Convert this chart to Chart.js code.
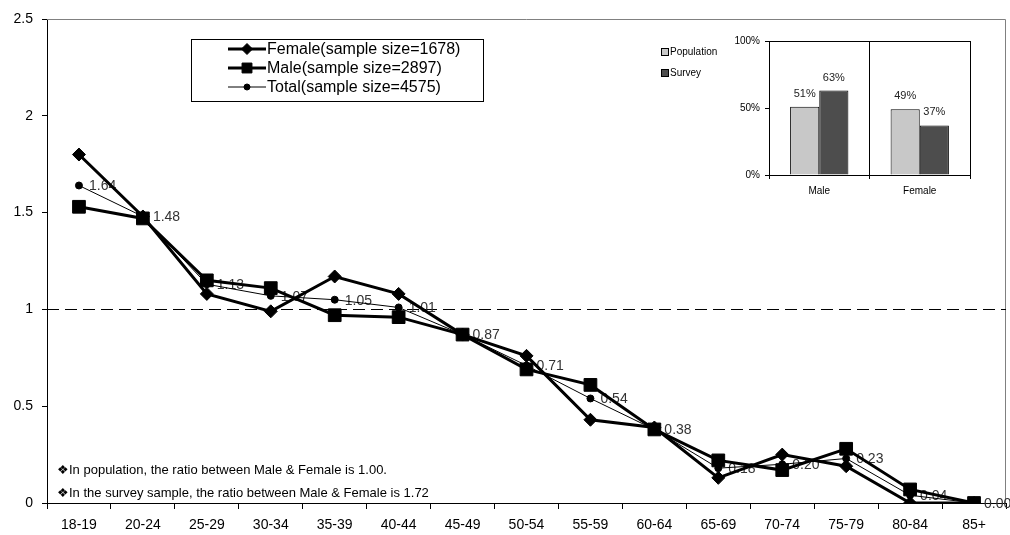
<!DOCTYPE html>
<html>
<head>
<meta charset="utf-8">
<script src="https://cdn.jsdelivr.net/npm/chart.js@4/dist/chart.umd.min.js"></script>
<style>
  html, body { margin: 0; padding: 0; background: #fff; }
  #wrap { position: relative; width: 1010px; height: 535px; }
  #mainChart { position: absolute; left: 0; top: 0; }
  #insetChart { position: absolute; left: 655px; top: 30px; }
</style>
</head>
<body>
<div id="wrap">
  <canvas id="mainChart" width="1010" height="535"></canvas>
  <canvas id="insetChart" width="325" height="180"></canvas>
</div>
<script>
// age groups and ratio values
const ageGroups = ["18-19", "20-24", "25-29", "30-34", "35-39", "40-44", "45-49", "50-54",
                   "55-59", "60-64", "65-69", "70-74", "75-79", "80-84", "85+"];
const femaleRatio = [1.80, 1.48, 1.08, 0.99, 1.17, 1.08, 0.87, 0.76, 0.43, 0.39, 0.13, 0.25, 0.19, 0.00, 0.00];
const maleRatio   = [1.53, 1.47, 1.15, 1.11, 0.97, 0.96, 0.87, 0.69, 0.61, 0.38, 0.22, 0.17, 0.28, 0.07, 0.00];
const totalRatio  = [1.64, 1.48, 1.13, 1.07, 1.05, 1.01, 0.87, 0.71, 0.54, 0.38, 0.18, 0.20, 0.23, 0.04, 0.00];
const yTicks = [0, 0.5, 1, 1.5, 2, 2.5];
const refLine = 1;

const legendNames = ["Female(sample size=1678)", "Male(sample size=2897)", "Total(sample size=4575)"];
const notes = [
    "\u2756In population, the ratio between Male & Female is 1.00.",
    "\u2756In the survey sample, the ratio between Male & Female is 1.72"
];

// inset: gender share
const insetCats = ["Male", "Female"];
const populationShare = [51, 49];
const surveyShare = [63, 37];
const insetTicks = [0, 50, 100];

const FONT = "Arial, 'Liberation Sans', sans-serif";
Chart.defaults.font.family = FONT;
Chart.defaults.color = "#000";

// frame, dashed line at 1, notes, legend box and total value labels
const mainDecor = {
    id: "mainDecor",
    beforeDatasetsDraw(chart) {
        const { ctx, chartArea: a, scales } = chart;
        ctx.save();
        // top and right frame
        ctx.strokeStyle = "#808080";
        ctx.lineWidth = 1;
        ctx.beginPath();
        ctx.moveTo(a.left, a.top + 0.5);
        ctx.lineTo(a.right - 0.5, a.top + 0.5);
        ctx.lineTo(a.right - 0.5, a.bottom);
        ctx.stroke();
        // dashed reference line
        const y1 = Math.round(scales.y.getPixelForValue(refLine)) + 0.5;
        ctx.strokeStyle = "#000";
        ctx.setLineDash([12, 6]);
        ctx.beginPath();
        ctx.moveTo(a.left, y1);
        ctx.lineTo(a.right, y1);
        ctx.stroke();
        ctx.setLineDash([]);
        // value labels of the total series
        ctx.fillStyle = "#333";
        ctx.font = "14px " + FONT;
        ctx.textAlign = "left";
        ctx.textBaseline = "middle";
        const meta = chart.getDatasetMeta(2);
        meta.data.forEach((pt, i) => {
            ctx.fillText(totalRatio[i].toFixed(2), pt.x + 10, pt.y + 1);
        });
        // notes
        ctx.fillStyle = "#000";
        ctx.font = "13px " + FONT;
        ctx.fillText(notes[0], 57, 470);
        ctx.fillText(notes[1], 57, 493);
        ctx.restore();
    },
    afterDatasetsDraw(chart) {
        const { ctx } = chart;
        ctx.save();
        ctx.strokeStyle = "#000";
        ctx.lineWidth = 1;
        ctx.fillStyle = "#fff";
        ctx.fillRect(191, 39, 292, 62);
        ctx.strokeRect(191.5, 39.5, 292, 62);
        const rows = [49, 68, 87];
        const legendRadius = [5.5, 7, 3];
        chart.data.datasets.forEach((ds, i) => {
            const y = rows[i];
            ctx.strokeStyle = "#000";
            ctx.lineWidth = ds.borderWidth;
            ctx.beginPath();
            ctx.moveTo(228, y);
            ctx.lineTo(266, y);
            ctx.stroke();
            ctx.fillStyle = "#000";
            ctx.lineWidth = 1;
            Chart.helpers.drawPoint(ctx, {
                pointStyle: ds.pointStyle, radius: legendRadius[i], rotation: 0, borderWidth: 1
            }, 247, y);
            ctx.fillStyle = "#000";
            ctx.font = "16px " + FONT;
            ctx.textAlign = "left";
            ctx.textBaseline = "middle";
            ctx.fillText(legendNames[i], 267, y + 1);
        });
        ctx.restore();
    }
};

new Chart(document.getElementById("mainChart").getContext("2d"), {
    type: "line",
    data: {
        labels: ageGroups,
        datasets: [
            {
                label: legendNames[0], data: femaleRatio, borderColor: "#000", backgroundColor: "#000",
                borderWidth: 3, pointStyle: "rectRot", pointRadius: 6.5, pointBorderWidth: 1, order: 1
            },
            {
                label: legendNames[1], data: maleRatio, borderColor: "#000", backgroundColor: "#000",
                borderWidth: 3, pointStyle: "rect", pointRadius: 9, pointBorderWidth: 1, order: 2
            },
            {
                label: legendNames[2], data: totalRatio, borderColor: "#000", backgroundColor: "#000",
                borderWidth: 1, pointStyle: "circle", pointRadius: 3.5, pointBorderWidth: 1, order: 0
            }
        ]
    },
    options: {
        responsive: false,
        animation: false,
        layout: { autoPadding: false, padding: { top: 19, right: 4, left: 0, bottom: 0 } },
        plugins: { legend: { display: false }, tooltip: { enabled: false } },
        scales: {
            x: {
                offset: true,
                grid: { offset: true, drawOnChartArea: false, drawTicks: true, tickLength: 6, color: "#000" },
                border: { display: true, color: "#000", width: 1 },
                ticks: { font: { size: 14 }, color: "#000", padding: 8, maxRotation: 0, autoSkip: false },
                afterFit: s => { s.height = 32; s.paddingLeft = 0; s.paddingRight = 0; }
            },
            y: {
                min: 0, max: 2.5,
                afterBuildTicks: s => { s.ticks = yTicks.map(v => ({ value: v })); },
                grid: { drawOnChartArea: false, drawTicks: true, tickLength: 5, color: "#000" },
                border: { display: true, color: "#000", width: 1 },
                ticks: { font: { size: 14 }, color: "#000", padding: 9, callback: v => String(v) },
                afterFit: s => { s.width = 47; }
            }
        }
    },
    plugins: [mainDecor]
});

// inset: legend on the left, box on top, percent labels
const insetDecor = {
    id: "insetDecor",
    afterDatasetsDraw(chart) {
        const { ctx, chartArea: a } = chart;
        ctx.save();
        ctx.strokeStyle = "#000";
        ctx.lineWidth = 1;
        ctx.beginPath();
        ctx.moveTo(a.left, a.top + 0.5);
        ctx.lineTo(a.right, a.top + 0.5);
        ctx.stroke();
        ctx.font = "11px " + FONT;
        ctx.fillStyle = "#222";
        ctx.textAlign = "center";
        ctx.textBaseline = "middle";
        chart.data.datasets.forEach((ds, di) => {
            chart.getDatasetMeta(di).data.forEach((bar, i) => {
                ctx.fillText(ds.data[i] + "%", bar.x, bar.y - 13);
            });
        });
        // legend
        const rows = [22, 43];
        ctx.textAlign = "left";
        ctx.font = "10px " + FONT;
        chart.data.datasets.forEach((ds, di) => {
            const y = rows[di];
            ctx.fillStyle = ds.backgroundColor;
            ctx.fillRect(6, y - 4, 7, 7);
            ctx.strokeRect(6.5, y - 3.5, 7, 7);
            ctx.fillStyle = "#000";
            ctx.fillText(ds.label, 15, y);
        });
        ctx.restore();
    }
};

new Chart(document.getElementById("insetChart").getContext("2d"), {
    type: "bar",
    data: {
        labels: insetCats,
        datasets: [
            { label: "Population", data: populationShare, backgroundColor: "#C8C8C8", borderColor: "#000", borderWidth: 1 },
            { label: "Survey", data: surveyShare, backgroundColor: "#4D4D4D", borderColor: "#000", borderWidth: 1 }
        ]
    },
    options: {
        responsive: false,
        animation: false,
        layout: { padding: { top: 11, right: 10, left: 0, bottom: 0 } },
        plugins: { legend: { display: false }, tooltip: { enabled: false } },
        datasets: { bar: { categoryPercentage: 0.58, barPercentage: 1 } },
        scales: {
            x: {
                grid: { offset: true, drawOnChartArea: true, drawTicks: true, tickLength: 4, color: "#000" },
                border: { display: true, color: "#000", width: 1 },
                ticks: { font: { size: 10 }, color: "#000", padding: 6 },
                afterFit: s => { s.height = 35; }
            },
            y: {
                min: 0, max: 100,
                afterBuildTicks: s => { s.ticks = insetTicks.map(v => ({ value: v })); },
                grid: { drawOnChartArea: false, drawTicks: true, tickLength: 4, color: "#000" },
                border: { display: true, color: "#000", width: 1 },
                ticks: { font: { size: 10 }, color: "#000", padding: 5, callback: v => v + "%" },
                afterFit: s => { s.width = 114; }
            }
        }
    },
    plugins: [insetDecor]
});
</script>
</body>
</html>
